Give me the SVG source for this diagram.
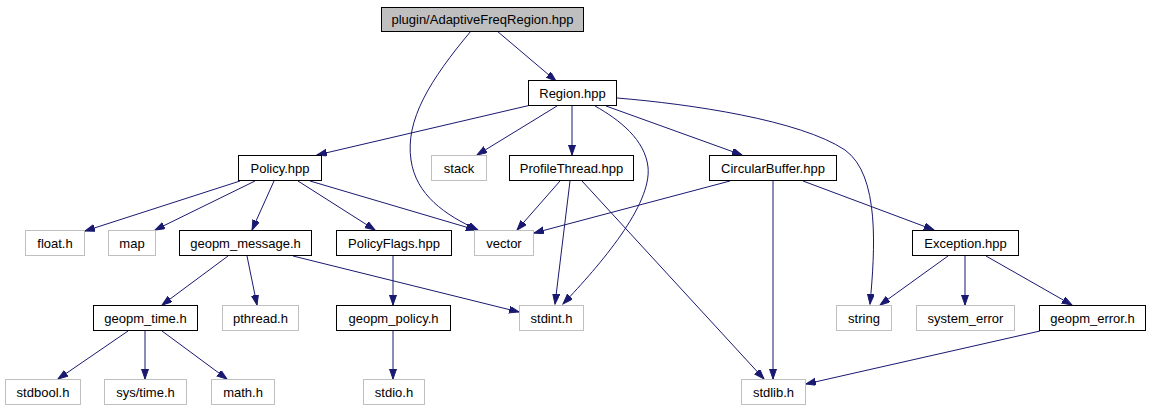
<svg xmlns="http://www.w3.org/2000/svg" width="1149" height="411" viewBox="0 0 1149 411">
<style>
text{font-family:"Liberation Sans",Arial,sans-serif;font-size:13px;fill:#000;text-anchor:middle}
.n rect{fill:#fff;stroke:#000;stroke-width:1}
.x rect{fill:#fff;stroke:#bfbfbf;stroke-width:1}
.root rect{fill:#bfbfbf;stroke:#000;stroke-width:1}
#edges path{fill:none;stroke:#191970;stroke-width:1;marker-end:url(#ah)}
</style>
<defs>
<marker id="ah" markerUnits="userSpaceOnUse" markerWidth="11" markerHeight="8" refX="10" refY="3.5" orient="auto">
<path d="M0,0 L10,3.5 L0,7 z" fill="#191970" stroke="#191970" stroke-width="1"/>
</marker>
</defs>
<rect width="1149" height="411" fill="#fff"/>
<g id="edges">
<path d="M497,31 L556,81"/>
<path d="M471,31 C430,80 405,120 411,160 C416,195 445,215 478,230"/>
<path d="M531,105 L317,155"/>
<path d="M557,106 L477,155"/>
<path d="M572,106 L572,155"/>
<path d="M595,106 C620,120 645,140 648,167 C652,205 600,265 563,304"/>
<path d="M606,106 L742,155"/>
<path d="M617,98 C690,104 800,120 845,150 C880,175 875,250 870,304"/>
<path d="M240,181 L85,231"/>
<path d="M255,181 L155,230"/>
<path d="M274,181 L252,230"/>
<path d="M298,181 L375,230"/>
<path d="M310,181 L476,230"/>
<path d="M560,181 L517,230"/>
<path d="M570,181 L555,304"/>
<path d="M582,181 L764,379"/>
<path d="M730,181 L534,233"/>
<path d="M773,181 L773,379"/>
<path d="M803,181 L934,230"/>
<path d="M228,256 L162,305"/>
<path d="M247,256 L257,305"/>
<path d="M293,256 L519,312"/>
<path d="M393,255 L393,305"/>
<path d="M128,331 L58,379"/>
<path d="M145,331 L145,379"/>
<path d="M162,331 L227,379"/>
<path d="M393,330 L393,379"/>
<path d="M948,256 L880,305"/>
<path d="M965,256 L965,305"/>
<path d="M986,256 L1072,305"/>
<path d="M1040,331 L806,384"/>
</g>
<g id="n_afr" class="root"><rect x="381.5" y="7.5" width="202" height="24"/><text x="482.5" y="24">plugin/AdaptiveFreqRegion.hpp</text></g>
<g id="n_region" class="n"><rect x="528.5" y="80.5" width="88" height="25"/><text x="572.5" y="97.5">Region.hpp</text></g>
<g id="n_policy" class="n"><rect x="238.5" y="155.5" width="83" height="25"/><text x="280" y="172.5">Policy.hpp</text></g>
<g id="n_stack" class="x"><rect x="431.5" y="155.5" width="55" height="25"/><text x="459" y="172.5">stack</text></g>
<g id="n_profilethread" class="n"><rect x="509.5" y="155.5" width="124" height="25"/><text x="571.5" y="172.5">ProfileThread.hpp</text></g>
<g id="n_circularbuffer" class="n"><rect x="709.5" y="155.5" width="127" height="25"/><text x="773" y="172.5">CircularBuffer.hpp</text></g>
<g id="n_float" class="x"><rect x="25.5" y="230.5" width="59" height="25"/><text x="55" y="247.5">float.h</text></g>
<g id="n_map" class="x"><rect x="108.5" y="230.5" width="47" height="25"/><text x="132" y="247.5">map</text></g>
<g id="n_geopm_message" class="n"><rect x="179.5" y="230.5" width="132" height="25"/><text x="245.5" y="247.5">geopm_message.h</text></g>
<g id="n_policyflags" class="n"><rect x="336.5" y="230.5" width="115" height="25"/><text x="394" y="247.5">PolicyFlags.hpp</text></g>
<g id="n_vector" class="x"><rect x="474.5" y="230.5" width="59" height="25"/><text x="504" y="247.5">vector</text></g>
<g id="n_exception" class="n"><rect x="912.5" y="230.5" width="106" height="25"/><text x="965.5" y="247.5">Exception.hpp</text></g>
<g id="n_geopm_time" class="n"><rect x="93.5" y="305.5" width="104" height="25"/><text x="145.5" y="322.5">geopm_time.h</text></g>
<g id="n_pthread" class="x"><rect x="222.5" y="305.5" width="76" height="25"/><text x="260.5" y="322.5">pthread.h</text></g>
<g id="n_geopm_policy" class="n"><rect x="336.5" y="305.5" width="114" height="25"/><text x="393.5" y="322.5">geopm_policy.h</text></g>
<g id="n_stdint" class="x"><rect x="519.5" y="305.5" width="64" height="25"/><text x="551.5" y="322.5">stdint.h</text></g>
<g id="n_string" class="x"><rect x="836.5" y="305.5" width="55" height="25"/><text x="864" y="322.5">string</text></g>
<g id="n_system_error" class="x"><rect x="916.5" y="305.5" width="98" height="25"/><text x="965.5" y="322.5">system_error</text></g>
<g id="n_geopm_error" class="n"><rect x="1039.5" y="305.5" width="106" height="25"/><text x="1092.5" y="322.5">geopm_error.h</text></g>
<g id="n_stdbool" class="x"><rect x="5.5" y="379.5" width="75" height="25"/><text x="43" y="396.5">stdbool.h</text></g>
<g id="n_systime" class="x"><rect x="104.5" y="379.5" width="82" height="25"/><text x="145.5" y="396.5">sys/time.h</text></g>
<g id="n_math" class="x"><rect x="211.5" y="379.5" width="63" height="25"/><text x="243" y="396.5">math.h</text></g>
<g id="n_stdio" class="x"><rect x="363.5" y="379.5" width="61" height="25"/><text x="394" y="396.5">stdio.h</text></g>
<g id="n_stdlib" class="x"><rect x="741.5" y="379.5" width="64" height="25"/><text x="773.5" y="396.5">stdlib.h</text></g>
</svg>
